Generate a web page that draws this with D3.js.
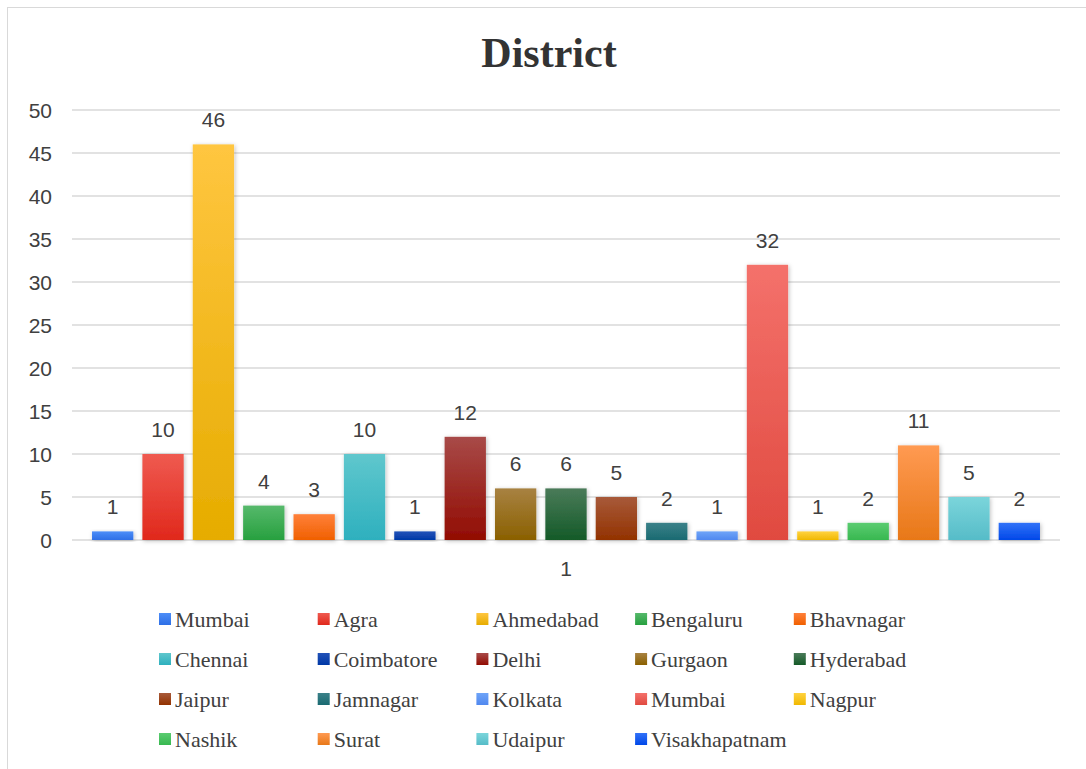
<!DOCTYPE html>
<html>
<head>
<meta charset="utf-8">
<script src="https://cdn.jsdelivr.net/npm/d3@7"></script>
<style>
  html, body { margin: 0; padding: 0; background: #fff; }
  svg { display: block; }
</style>
</head>
<body>
<svg id="chart" width="1086" height="769"></svg>
<script>
const title = "District";
const category = "1";
const districts = ["Mumbai","Agra","Ahmedabad","Bengaluru","Bhavnagar","Chennai","Coimbatore","Delhi","Gurgaon","Hyderabad","Jaipur","Jamnagar","Kolkata","Mumbai","Nagpur","Nashik","Surat","Udaipur","Visakhapatnam"];
const counts = [1,10,46,4,3,10,1,12,6,6,5,2,1,32,1,2,11,5,2];
const yTicks = [0,5,10,15,20,25,30,35,40,45,50];
const topColors = ["#4d8ef8","#ef5a50","#ffc640","#56b96b","#ff803a","#5fc7cd","#2252b8","#a84a48","#a88242","#4a7b59","#a85a3a","#3b8189","#6ea4f8","#f4716b","#ffd23f","#5bcc71","#ff9a52","#7bd5db","#3172f8"];
const bottomColors = ["#2e6fe6","#e0281c","#e6ac00","#27a03f","#f06000","#2eb0be","#0038a6","#920c02","#8a6000","#145a28","#923200","#1a6a71","#5088ef","#e04a40","#f0b800","#38b850","#e87818","#56bcc8","#0048e8"];

const svg = d3.select("#chart");
const defs = svg.append("defs");

const filter = defs.append("filter").attr("id","shadow").attr("x","-20%").attr("y","-20%").attr("width","140%").attr("height","140%");
filter.append("feDropShadow").attr("dx",1).attr("dy",1).attr("stdDeviation",2).attr("flood-color","#000").attr("flood-opacity",0.25);

districts.forEach((d,i) => {
  const g = defs.append("linearGradient").attr("id","grad"+i).attr("x1",0).attr("y1",0).attr("x2",0).attr("y2",1);
  g.append("stop").attr("offset","0%").attr("stop-color",topColors[i]);
  g.append("stop").attr("offset","100%").attr("stop-color",bottomColors[i]);
});

// Chart area border (left & top visible)
svg.append("rect").attr("x",7.5).attr("y",7.5).attr("width",1100).attr("height",800)
  .attr("fill","none").attr("stroke","#d9d9d9").attr("stroke-width",1);

const plotLeft = 72, plotRight = 1060, plotTop = 110, plotBottom = 540;

const y = d3.scaleLinear().domain([0,50]).range([plotBottom, plotTop]);
const x = d3.scaleBand().domain(d3.range(districts.length))
  .range([plotLeft, plotRight]).paddingInner(0.18).paddingOuter(0.3975);

// Title
svg.append("text").attr("x",549).attr("y",67).attr("text-anchor","middle")
  .style("font-family","'Liberation Serif','Times New Roman',serif")
  .style("font-weight","bold").style("font-size","42px").attr("fill","#333")
  .text(title);

// Gridlines
svg.append("g").selectAll("line").data(yTicks).join("line")
  .attr("x1",plotLeft).attr("x2",plotRight)
  .attr("y1",d=>y(d)).attr("y2",d=>y(d))
  .attr("stroke","#d9d9d9").attr("stroke-width",1.5);

// Y axis labels
const yAxis = d3.axisLeft(y).tickValues(yTicks).tickSize(0).tickPadding(0);
const ya = svg.append("g").attr("transform",`translate(${52},0)`).call(yAxis);
ya.select(".domain").remove();
ya.selectAll("text").style("font-family","'Liberation Sans',Arial,sans-serif")
  .style("font-size","21px").attr("fill","#404040").attr("dy","0.35em");

// Bars
svg.append("g").selectAll("rect").data(counts).join("rect")
  .attr("x",(d,i)=>x(i)).attr("width",x.bandwidth())
  .attr("y",d=>y(d)).attr("height",d=>y(0)-y(d))
  .attr("fill",(d,i)=>`url(#grad${i})`)
  .attr("filter","url(#shadow)");

// Data labels
svg.append("g").selectAll("text").data(counts).join("text")
  .attr("x",(d,i)=>x(i)+x.bandwidth()/2).attr("y",d=>y(d)-17)
  .attr("text-anchor","middle")
  .style("font-family","'Liberation Sans',Arial,sans-serif").style("font-size","21px")
  .attr("fill","#404040").text(d=>d);

// Category label
svg.append("text").attr("x",(plotLeft+plotRight)/2).attr("y",576).attr("text-anchor","middle")
  .style("font-family","'Liberation Sans',Arial,sans-serif").style("font-size","21px")
  .attr("fill","#404040").text(category);

// Legend
const legX0 = 159, legDx = 158.7, legY0 = 613, legDy = 40, cols = 5;
const leg = svg.append("g").selectAll("g").data(districts).join("g")
  .attr("transform",(d,i)=>`translate(${legX0 + (i%cols)*legDx},${legY0 + Math.floor(i/cols)*legDy})`);
leg.append("rect").attr("width",12).attr("height",12).attr("fill",(d,i)=>`url(#grad${i})`);
leg.append("text").attr("x",16).attr("y",14)
  .style("font-family","'Liberation Serif','Times New Roman',serif").style("font-size","22px")
  .attr("fill","#404040").text(d=>d);
</script>
</body>
</html>
